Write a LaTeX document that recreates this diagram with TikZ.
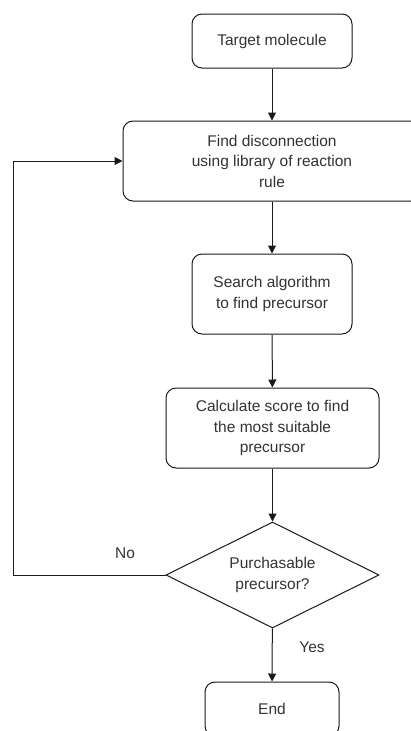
\documentclass[tikz,border=0pt]{standalone}
\usepackage{fontspec}
\setmainfont{Liberation Sans}
\usetikzlibrary{shapes.geometric,arrows.meta}
\definecolor{txt}{HTML}{333333}
\definecolor{ln}{HTML}{1A1A1A}
\begin{document}
\begin{tikzpicture}[x=1pt,y=-1pt,
  every node/.style={font=\fontsize{15.5}{20.5}\selectfont, text=txt},
  procbox/.style={draw=ln, line width=1pt, rounded corners=10pt, align=center, inner sep=0pt},
  decbox/.style={draw=ln, line width=1pt, diamond, aspect=2, align=center, inner sep=0pt},
  arr/.style={draw=ln, line width=1pt, -{Triangle[length=8pt,width=8pt]}},
  lbl/.style={inner sep=0pt}]
\clip (0,0) rectangle (411,731);
\fill[white] (0,0) rectangle (411,731);
\node[procbox, minimum width=160pt, minimum height=54pt] (target) at (272,41) {Target molecule};
\node[procbox, minimum width=298pt, minimum height=80pt] (find) at (272,161) {Find disconnection\\using library of reaction\\rule};
\node[procbox, minimum width=160pt, minimum height=80pt] (search) at (272,294) {Search algorithm\\to find precursor};
\node[procbox, minimum width=213pt, minimum height=80pt] (calc) at (272.5,428) {Calculate score to find\\the most suitable\\precursor};
\node[decbox, minimum width=213pt, minimum height=106pt] (dec) at (272.5,575) {Purchasable\\precursor?};
\node[procbox, minimum width=134pt, minimum height=54pt] (end) at (272,709) {End};
\coordinate (c1) at (13,575);
\node[lbl] (no) at (125,553) {No};
\node[lbl] (yes) at (312,647) {Yes};
\draw[arr] (target) -- (find);
\draw[arr] (find) -- (search);
\draw[arr] (search) -- (calc);
\draw[arr] (calc) -- (dec);
\draw[arr] (dec) -- (end);
\draw[arr] (dec.west) -- (c1) |- (find.west);
\end{tikzpicture}
\end{document}
